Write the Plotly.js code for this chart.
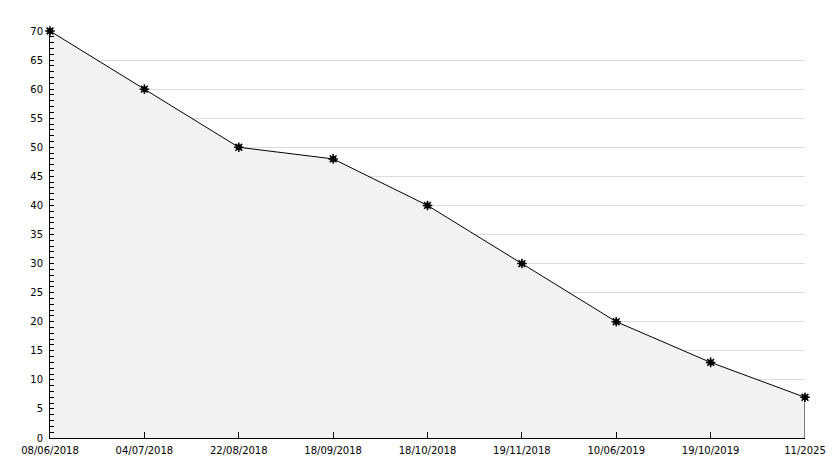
<!DOCTYPE html>
<html>
<head>
<meta charset="utf-8">
<script src="https://cdn.plot.ly/plotly-3.0.1.min.js"></script>
<style>html,body{margin:0;padding:0;background:#fff;}#chart{width:834px;height:468px;}</style>
</head>
<body>
<div id="chart"></div>
<script>
const dates = ["08/06/2018","04/07/2018","22/08/2018","18/09/2018","18/10/2018","19/11/2018","10/06/2019","19/10/2019","11/2025"];
const values = [70, 60, 50, 48, 40, 30, 20, 13, 7];
const yTicks = [0,5,10,15,20,25,30,35,40,45,50,55,60,65,70];

const idx = dates.map((d,i)=>i);
const last = idx.length - 1;

const traces = [
  {
    x: idx, y: values, type: 'scatter', mode: 'lines+markers',
    fill: 'tozeroy', fillcolor: '#f2f2f2',
    line: {color: '#000', width: 1},
    marker: {symbol: 'circle', size: 6, color: '#000', line: {width: 0}},
    hoverinfo: 'skip', cliponaxis: false
  },
  {
    x: [idx[last], idx[last]], y: [0, values[last]], type: 'scatter', mode: 'lines',
    line: {color: '#000', width: 1}, hoverinfo: 'skip'
  },
  {
    x: idx, y: values, type: 'scatter', mode: 'markers',
    marker: {symbol: 'asterisk-open', size: 8, color: '#000', line: {width: 1.5, color: '#000'}},
    hoverinfo: 'skip', cliponaxis: false
  }
];

const layout = {
  width: 834, height: 468,
  margin: {l: 50, r: 29, t: 31, b: 30},
  paper_bgcolor: '#fff', plot_bgcolor: '#fff',
  showlegend: false,
  font: {family: 'DejaVu Sans, sans-serif', size: 10, color: '#000'},
  xaxis: {
    range: [0, last], tickvals: idx, ticktext: dates,
    showgrid: false, zeroline: false,
    showline: true, linecolor: '#000', linewidth: 1,
    ticks: 'inside', ticklen: 6, tickcolor: '#000', tickwidth: 1,
    ticklabelstandoff: 3,
    tickfont: {family: 'DejaVu Sans, sans-serif', size: 10, color: '#000'}
  },
  yaxis: {
    range: [0, 70], tickvals: yTicks,
    showgrid: true, gridcolor: '#dcdcdc', gridwidth: 1,
    zeroline: false,
    showline: true, linecolor: '#000', linewidth: 1,
    ticks: 'inside', ticklen: 4, tickcolor: '#000', tickwidth: 1,
    ticklabelstandoff: 4,
    minor: {dtick: 1, ticks: 'inside', ticklen: 4, tickcolor: '#000', showgrid: false},
    tickfont: {family: 'DejaVu Sans, sans-serif', size: 10, color: '#000'}
  }
};

Plotly.newPlot('chart', traces, layout, {staticPlot: true, displayModeBar: false});
</script>
</body>
</html>
